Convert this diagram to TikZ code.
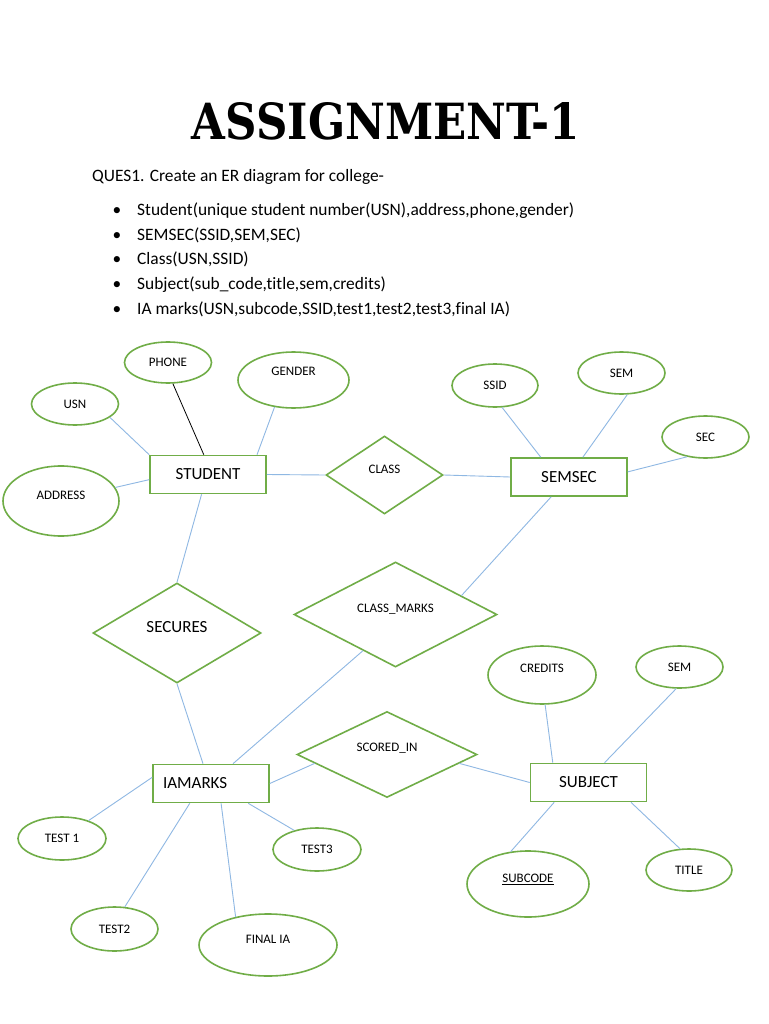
\documentclass[tikz,border=0pt]{standalone}
\usepackage{fontspec}
\setmainfont{Carlito}[Ligatures=NoCommon]
\newfontfamily\headfont{DejaVu Serif}
\usetikzlibrary{shapes.geometric}
\definecolor{ergreen}{HTML}{70AD47}
\definecolor{erblue}{HTML}{8FB8E3}
\newcommand{\smalltxt}{\fontsize{13}{15}\selectfont}
\newcommand{\bigtxt}{\fontsize{17}{20}\selectfont}
\newcommand{\bodytxt}{\fontsize{17.4}{21}\selectfont}
\begin{document}
\begin{tikzpicture}[x=1pt,y=-1pt,
    entity/.style={draw=ergreen,line width=1.6pt,minimum width=116pt,minimum height=38pt,inner sep=0pt,font=\bigtxt},
    attr/.style={ellipse,draw=ergreen,line width=1.6pt,inner sep=0pt,font=\smalltxt},
    rel/.style={diamond,draw=ergreen,line width=1.6pt,inner sep=0pt,font=\smalltxt},
    dims/.style 2 args={minimum width=#1,minimum height=#2},
    lift/.style={text height=9pt,text depth=#1},
    conn/.style={erblue,line width=0.9pt}]
\fill[white] (0,0) rectangle (768,1024);
\useasboundingbox (0,0) rectangle (768,1024);

% heading
\node[inner sep=0pt] (head) at (386,121.5) {\resizebox{388pt}{37pt}{\headfont\bfseries ASSIGNMENT-1}};
\node[anchor=base west,inner sep=0pt,font=\bodytxt] (ques) at (92,182) {QUES1. Create an ER diagram for college-};
\foreach \txt [count=\i] in {{Student(unique student number(USN),address,phone,gender)},
    {SEMSEC(SSID,SEM,SEC)}, {Class(USN,SSID)},
    {Subject(sub\_code,title,sem,credits)},
    {IA marks(USN,subcode,SSID,test1,test2,test3,final IA)}}
{
    \node[anchor=base,inner sep=0pt,font=\bodytxt] (dot\i) at (117,{215.5+24.7*(\i-1)}) {\textbullet};
    \node[anchor=base west,inner sep=0pt,font=\bodytxt] (item\i) at (137,{215.5+24.7*(\i-1)}) {\txt};
}

% entities
\node[entity] (student) at (208,474.5) {STUDENT};
\node[entity] (semsec) at (569,477) {SEMSEC};
\node[entity,text width=96pt,align=left,inner xsep=10pt] (iamarks) at (211,783.5) {IAMARKS};
\node[entity] (subject) at (588.5,782.5) {SUBJECT};

% relationships
\node[rel,dims={117pt}{78pt},lift=12pt] (class) at (384.5,475) {CLASS};
\node[rel,dims={168pt}{100pt},font=\bigtxt,text height=11pt,text depth=12.6pt] (secures) at (177,633) {SECURES};
\node[rel,dims={203pt}{105pt},lift=14pt] (classmarks) at (395.5,614.5) {CLASS\_MARKS};
\node[rel,dims={180pt}{83pt},lift=16pt] (scoredin) at (387,754.5) {SCORED\_IN};

% attributes
\node[attr,dims={87pt}{42pt}] (usn) at (75,404) {USN};
\node[attr,dims={87pt}{41pt}] (phone) at (168,362.5) {PHONE};
\node[attr,dims={111pt}{56pt},lift=18pt] (gender) at (293.5,380) {GENDER};
\node[attr,dims={116pt}{70pt},lift=12pt] (address) at (61,501) {ADDRESS};
\node[attr,dims={86pt}{43pt}] (ssid) at (495,385.5) {SSID};
\node[attr,dims={87pt}{42pt}] (sem) at (621.5,373) {SEM};
\node[attr,dims={87pt}{42pt}] (sec) at (705.5,437) {SEC};
\node[attr,dims={88pt}{43pt}] (test1) at (62,838.5) {TEST 1};
\node[attr,dims={88pt}{43pt}] (test3) at (317,849.5) {TEST3};
\node[attr,dims={87pt}{44pt}] (test2) at (114.5,929) {TEST2};
\node[attr,dims={138pt}{62pt},lift=12pt] (final) at (268,945) {FINAL IA};
\node[attr,dims={108pt}{58pt},lift=14pt] (credits) at (542,675) {CREDITS};
\node[attr,dims={87pt}{42pt}] (semsub) at (679.5,667) {SEM};
\node[attr,dims={122pt}{66pt},lift=12pt] (subcode) at (528,884) {\underline{SUBCODE}};
\node[attr,dims={86pt}{42pt}] (title) at (689,870) {TITLE};

% connectors
\draw[conn] (usn.-21) -- (student.north west);
\draw[line width=0.8pt] (phone.-77) -- (student.102);
\draw[conn] (gender.-125) -- (student.22);
\draw[conn] (address.14) -- (student.185);
\draw[conn] (student.east) -- (class.west);
\draw[conn] (class.east) -- (semsec.west);
\draw[conn] (ssid.-72) -- (semsec.145);
\draw[conn] (sem.-75) -- (semsec.55);
\draw[conn] (sec.-133) -- (semsec.5);
\draw[conn] (student.-108) -- (secures.north);
\draw[conn] (secures.south) -- (iamarks.112);
\draw[conn] (semsec.-132) -- (classmarks.16);
\draw[conn] (classmarks.-132) -- (iamarks.42);
\draw[conn] (iamarks.east) -- (scoredin.187);
\draw[conn] (scoredin.-7) -- (subject.west);
\draw[conn] (credits.-84) -- (subject.151);
\draw[conn] (semsub.-99) -- (subject.51);
\draw[conn] (subject.-150) -- (subcode.118);
\draw[conn] (subject.-25) -- (title.113);
\draw[conn] (iamarks.174) -- (test1.34);
\draw[conn] (iamarks.-137) -- (test2.65);
\draw[conn] (iamarks.-63) -- (final.139);
\draw[conn] (iamarks.-28) -- (test3.140);
\end{tikzpicture}
\end{document}
